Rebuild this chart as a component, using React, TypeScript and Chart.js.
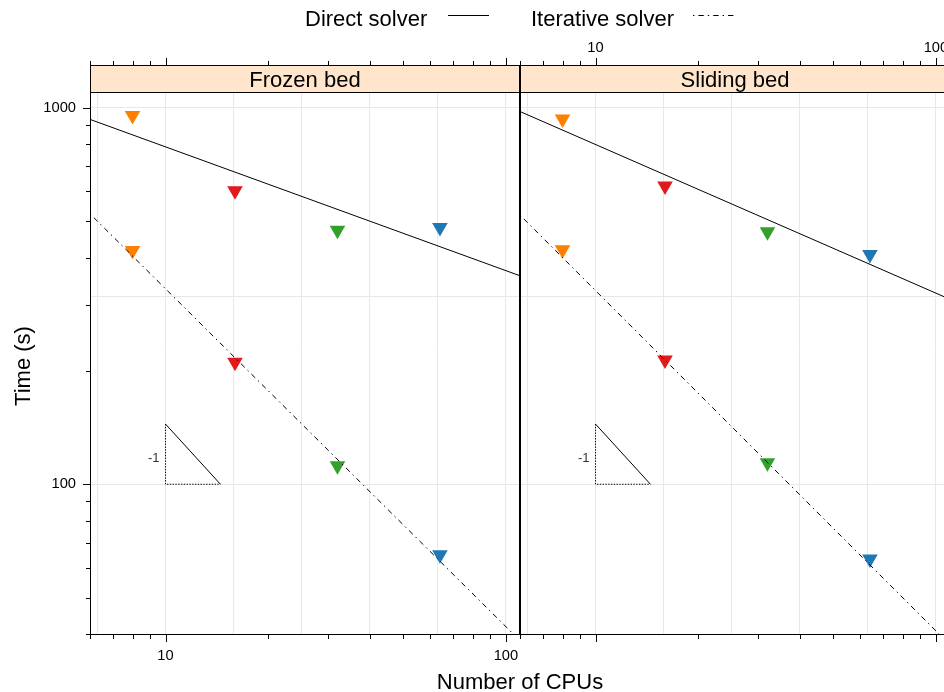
import React, { useEffect, useRef } from 'react';
import { Chart, registerables } from 'chart.js';

Chart.register(...registerables);

const FONT = '"Liberation Sans", Arial, Helvetica, sans-serif';

// ---- data ----
const cpus = [8, 16, 32, 64];
const cpuColors = ['#FF7F00', '#E31A1C', '#33A02C', '#1F78B4'];
const panelNames = ['Frozen bed', 'Sliding bed'];
const frozenDirect = [954, 602, 473, 481];
const frozenIterative = [418, 211, 112, 65];
const slidingDirect = [934, 620, 469, 408];
const slidingIterative = [420, 214, 114, 63.3];
const fitCpus = [6, 110];
const frozenDirectFit = [932, 358];
const frozenIterativeFit = [523, 38.4];
const slidingDirectFit = [978, 310];
const slidingIterativeFit = [519, 37.4];
const slopeLegX = [10, 10, 14.5];
const slopeLegY = [144.5, 100, 100];
const slopeHypX = [10, 14.5];
const slopeHypY = [144.5, 100];
const slopeLabel = '-1';
const xGrid = [6.31, 10, 15.85, 25.12, 39.81, 63.1, 100];
const yGrid = [100, 316.2, 1000];
const xTickMarks = [6, 7, 8, 9, 10, 20, 30, 40, 50, 60, 70, 80, 90, 100];
const xMajorTicks = [10, 100];
const xTickLabels = ['10', '100'];
const yTickMarks = [40, 50, 60, 70, 80, 90, 100, 200, 300, 400, 500, 600, 700, 800, 900, 1000];
const yMajorTicks = [100, 1000];
const yTickLabels = ['100', '1000'];
const legendLabels = ['Direct solver', 'Iterative solver'];
const xTitle = 'Number of CPUs';
const yTitle = 'Time (s)';
const xMin = 6;
const xMax = 110;
const yMin = 40;
const yMax = 1300;

const DOTDASH = [1.4, 4, 5.4, 4];
const DOTTED = [1.4, 1.4];
const GRID = '#E8E8E8';
const BIG = 22;

const pts = (xs: number[], ys: number[]) => xs.map((x, i) => ({ x, y: ys[i] }));

function panelDatasets(axis: string, direct: number[], iterative: number[], dFit: number[], iFit: number[]) {
  const markers = (vals: number[]) => ({
    xAxisID: axis,
    yAxisID: 'y',
    data: pts(cpus, vals),
    showLine: false,
    pointStyle: 'triangle',
    pointRotation: 180,
    pointRadius: 9,
    pointBackgroundColor: cpuColors,
    pointBorderWidth: 0,
    order: 2,
  });
  const line = (xv: number[], yv: number[], dash: number[]) => ({
    xAxisID: axis,
    yAxisID: 'y',
    data: pts(xv, yv),
    showLine: true,
    borderColor: '#000',
    borderWidth: 1,
    borderDash: dash,
    pointRadius: 0,
    fill: false,
    order: 1,
  });
  return [
    markers(direct),
    markers(iterative),
    line(fitCpus, dFit, []),
    line(fitCpus, iFit, DOTDASH),
    line(slopeLegX, slopeLegY, DOTTED),
    line(slopeHypX, slopeHypY, []),
  ];
}

const decor = {
  id: 'latticeDecor',
  afterDatasetsDraw(chart: any) {
    const { ctx, chartArea: ca, scales } = chart;
    const y = scales.y;
    const xs = [scales.xL, scales.xR];
    const stripH = 27;
    ctx.save();

    // strips
    xs.forEach((s: any, i: number) => {
      ctx.fillStyle = '#FFE5CC';
      ctx.fillRect(s.left, ca.top, s.right - s.left, stripH);
      ctx.fillStyle = '#000';
      ctx.font = `${BIG}px ${FONT}`;
      ctx.textAlign = 'center';
      ctx.textBaseline = 'alphabetic';
      ctx.fillText(panelNames[i], (s.left + s.right) / 2, ca.top + 22);
    });

    // panel borders
    ctx.strokeStyle = '#000';
    ctx.lineWidth = 1;
    ctx.setLineDash([]);
    xs.forEach((s: any) => {
      const x0 = Math.round(s.left) + 0.5;
      const x1 = Math.round(s.right) - 0.5;
      const y0 = Math.round(ca.top) + 0.5;
      const y1 = Math.round(ca.bottom) + 0.5;
      ctx.strokeRect(x0, y0, x1 - x0, y1 - y0);
      ctx.beginPath();
      ctx.moveTo(x0, y0 + stripH);
      ctx.lineTo(x1, y0 + stripH);
      ctx.stroke();
    });

    // tick marks
    ctx.beginPath();
    xs.forEach((s: any) => {
      xTickMarks.forEach((v) => {
        const len = xMajorTicks.includes(v) ? 7 : 4;
        const px = Math.round(s.getPixelForValue(v)) + 0.5;
        ctx.moveTo(px, Math.round(ca.bottom) + 1);
        ctx.lineTo(px, Math.round(ca.bottom) + 1 + len);
        ctx.moveTo(px, Math.round(ca.top));
        ctx.lineTo(px, Math.round(ca.top) - len);
      });
    });
    yTickMarks.forEach((v) => {
      const len = yMajorTicks.includes(v) ? 7 : 4;
      const py = Math.round(y.getPixelForValue(v)) + 0.5;
      ctx.moveTo(Math.round(ca.left), py);
      ctx.lineTo(Math.round(ca.left) - len, py);
    });
    ctx.stroke();

    // x tick labels: bottom of left panel, top of right panel
    ctx.fillStyle = '#000';
    ctx.font = `14.7px ${FONT}`;
    ctx.textAlign = 'center';
    ctx.textBaseline = 'alphabetic';
    xMajorTicks.forEach((v, i) => {
      ctx.fillText(xTickLabels[i], scales.xL.getPixelForValue(v), ca.bottom + 25.5);
      ctx.fillText(xTickLabels[i], scales.xR.getPixelForValue(v), ca.top - 13);
    });

    // slope labels
    ctx.fillStyle = '#333';
    ctx.font = `13px ${FONT}`;
    ctx.textAlign = 'right';
    xs.forEach((s: any) => {
      const px = s.getPixelForValue(slopeLegX[0]) - 6;
      const py = (y.getPixelForValue(slopeLegY[0]) + y.getPixelForValue(slopeLegY[1])) / 2 + 7.5;
      ctx.fillText(slopeLabel, px, py);
    });

    // axis titles
    ctx.fillStyle = '#000';
    ctx.font = `${BIG}px ${FONT}`;
    ctx.textAlign = 'center';
    ctx.fillText(xTitle, (scales.xL.left + scales.xR.right) / 2, 688.5);
    ctx.save();
    ctx.translate(29.5, 366);
    ctx.rotate(-Math.PI / 2);
    ctx.fillText(yTitle, 0, 0);
    ctx.restore();

    // legend
    ctx.textAlign = 'left';
    ctx.fillText(legendLabels[0], 305, 26);
    ctx.fillText(legendLabels[1], 531, 26);
    ctx.beginPath();
    ctx.moveTo(448, 15.5);
    ctx.lineTo(489, 15.5);
    ctx.stroke();
    ctx.setLineDash(DOTDASH);
    ctx.beginPath();
    ctx.moveTo(693, 15.5);
    ctx.lineTo(735, 15.5);
    ctx.stroke();

    ctx.restore();
  },
};

const isPow10 = (v: number) => Math.abs(Math.log10(v) - Math.round(Math.log10(v))) < 1e-6;

export default function App() {
  const ref = useRef<HTMLCanvasElement>(null);

  useEffect(() => {
    const canvas = ref.current;
    if (!canvas) return;
    const xAxis = (weight: number) => ({
      type: 'logarithmic',
      position: 'bottom',
      stack: 'panels',
      stackWeight: 1,
      weight,
      min: xMin,
      max: xMax,
      afterBuildTicks: (s: any) => {
        s.ticks = xGrid.map((v) => ({ value: v }));
      },
      afterFit: (s: any) => {
        s.height = 58;
      },
      ticks: { display: false, autoSkip: false },
      grid: { color: GRID, lineWidth: 1, drawTicks: false },
      border: { display: false },
    });
    const chart = new Chart(canvas, {
      type: 'scatter',
      data: {
        datasets: [
          ...panelDatasets('xL', frozenDirect, frozenIterative, frozenDirectFit, frozenIterativeFit),
          ...panelDatasets('xR', slidingDirect, slidingIterative, slidingDirectFit, slidingIterativeFit),
        ] as any,
      },
      options: {
        animation: false,
        responsive: false,
        devicePixelRatio: 1,
        events: [],
        layout: { padding: { top: 65, right: 10, bottom: 0, left: 0 } },
        plugins: { legend: { display: false }, tooltip: { enabled: false } },
        scales: {
          xL: xAxis(0),
          xR: xAxis(1),
          y: {
            type: 'logarithmic',
            position: 'left',
            min: yMin,
            max: yMax,
            afterBuildTicks: (s: any) => {
              s.ticks = yGrid.map((v) => ({ value: v }));
            },
            afterFit: (s: any) => {
              s.width = 90;
            },
            ticks: {
              autoSkip: false,
              padding: 14,
              color: '#000',
              font: { family: FONT, size: 14.7 },
              callback: (v: any) => {
                const n = Number(v);
                if (!isPow10(n)) return '';
                const idx = yMajorTicks.findIndex((m) => Math.abs(m - n) < 1e-6);
                return idx >= 0 ? yTickLabels[idx] : '';
              },
            },
            grid: { color: GRID, lineWidth: 1, drawTicks: false },
            border: { display: false },
          },
        } as any,
      },
      plugins: [decor],
    });
    return () => chart.destroy();
  }, []);

  return (
    <div
      style={{
        position: 'fixed',
        left: 0,
        top: 0,
        width: 944,
        height: 692,
        overflow: 'hidden',
        background: '#fff',
      }}
    >
      <canvas ref={ref} width={960} height={692} style={{ display: 'block', width: 960, height: 692 }} />
    </div>
  );
}
